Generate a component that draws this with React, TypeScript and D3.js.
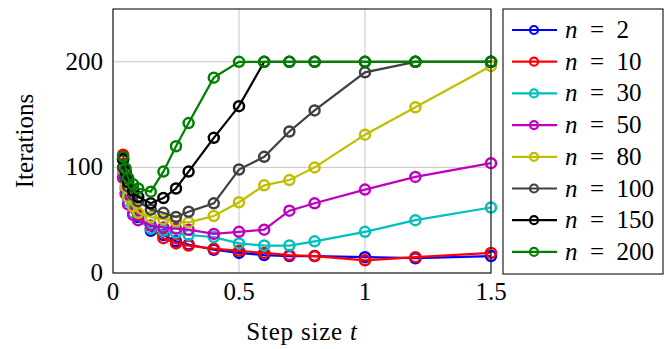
import React, { useRef, useEffect } from 'react';
import * as d3 from 'd3';

const steps = [0.04, 0.05, 0.06, 0.08, 0.1, 0.15, 0.2, 0.25, 0.3, 0.4, 0.5, 0.6, 0.7, 0.8, 1, 1.2, 1.5];

const n2 = [107, 90, 77, 63, 53, 40, 36, 30, 27, 22, 19, 17, 16, 16, 15, 14, 16];
const n10 = [112, 95, 80, 65, 55, 42, 33, 28, 26, 23, 21, 19, 17, 16, 12, 15, 19];
const n30 = [95, 80, 68, 57, 50, 42, 40, 38, 36, 34, 28, 26, 26, 30, 39, 50, 62];
const n50 = [90, 75, 65, 55, 50, 45, 43, 42, 41, 37, 39, 41, 59, 66, 79, 91, 104];
const n80 = [98, 82, 72, 63, 57, 53, 51, 49, 48, 54, 67, 83, 88, 100, 131, 157, 196];
const n100 = [100, 90, 82, 74, 68, 60, 57, 53, 58, 66, 98, 110, 134, 154, 190, 200, 200];
const n150 = [108, 96, 86, 78, 72, 66, 71, 80, 96, 128, 158, 200, 200, 200, 200, 200, 200];
const n200 = [110, 99, 90, 84, 80, 77, 96, 120, 142, 185, 200, 200, 200, 200, 200, 200, 200];

const seriesNames = ['2', '10', '30', '50', '80', '100', '150', '200'];
const seriesValues = [n2, n10, n30, n50, n80, n100, n150, n200];
const seriesColors = ['#0000ff', '#ff0000', '#00bfbf', '#bf00bf', '#bfbf00', '#404040', '#000000', '#008000'];

const xTicks = [0, 0.5, 1, 1.5];
const yTicks = [0, 100, 200];

const FONT = 'Liberation Serif, DejaVu Serif, serif';

const Chart = ({ width = 665, height = 349 }) => {
  const svgRef = useRef<SVGSVGElement>(null);

  useEffect(() => {
    const svg = d3.select(svgRef.current);
    svg.selectAll('*').remove();

    const left = 113, right = 491, top = 9, bottom = 273;

    const x = d3.scaleLinear().domain([0, 1.5]).range([left, right]);
    const y = d3.scaleLinear().domain([0, 250]).range([bottom, top]);

    // grid
    svg.append('g')
      .selectAll('line')
      .data(xTicks)
      .enter()
      .append('line')
      .attr('x1', d => x(d)).attr('x2', d => x(d))
      .attr('y1', top).attr('y2', bottom)
      .attr('stroke', '#c8c8c8').attr('stroke-width', 1);
    svg.append('g')
      .selectAll('line')
      .data(yTicks)
      .enter()
      .append('line')
      .attr('x1', left).attr('x2', right)
      .attr('y1', d => y(d)).attr('y2', d => y(d))
      .attr('stroke', '#c8c8c8').attr('stroke-width', 1);

    // tick labels
    svg.append('g')
      .selectAll('text')
      .data(xTicks)
      .enter()
      .append('text')
      .attr('x', d => x(d))
      .attr('y', 300)
      .attr('text-anchor', 'middle')
      .attr('font-family', FONT)
      .attr('font-size', 25)
      .text(d => String(d));
    svg.append('g')
      .selectAll('text')
      .data(yTicks)
      .enter()
      .append('text')
      .attr('x', 103)
      .attr('y', d => y(d) + 8)
      .attr('text-anchor', 'end')
      .attr('font-family', FONT)
      .attr('font-size', 25)
      .text(d => String(d));

    // series
    const line = d3.line<number>()
      .x((_, i) => x(steps[i]))
      .y(d => y(d));

    const plot = svg.append('g');
    seriesValues.forEach((vals, si) => {
      const g = plot.append('g');
      g.append('path')
        .datum(vals)
        .attr('fill', 'none')
        .attr('stroke', seriesColors[si])
        .attr('stroke-width', 2.2)
        .attr('d', line);
      g.selectAll('circle')
        .data(vals)
        .enter()
        .append('circle')
        .attr('cx', (_, i) => x(steps[i]))
        .attr('cy', d => y(d))
        .attr('r', 5)
        .attr('fill', 'none')
        .attr('stroke', seriesColors[si])
        .attr('stroke-width', 2.5);
    });

    // axis box
    svg.append('rect')
      .attr('x', left).attr('y', top)
      .attr('width', right - left).attr('height', bottom - top)
      .attr('fill', 'none')
      .attr('stroke', '#222')
      .attr('stroke-width', 1.2);

    // axis labels
    svg.append('text')
      .attr('x', (left + right) / 2)
      .attr('y', 340)
      .attr('text-anchor', 'middle')
      .attr('font-family', FONT)
      .attr('font-size', 25)
      .attr('letter-spacing', 0.8)
      .call(t => {
        t.append('tspan').text('Step size ');
        t.append('tspan').attr('font-style', 'italic').text('t');
      });
    svg.append('text')
      .attr('transform', `translate(33,${(top + bottom) / 2}) rotate(-90)`)
      .attr('text-anchor', 'middle')
      .attr('font-family', FONT)
      .attr('font-size', 25)
      .text('Iterations');

    // legend
    const lg = svg.append('g');
    lg.append('rect')
      .attr('x', 503).attr('y', 9)
      .attr('width', 160).attr('height', 265)
      .attr('fill', 'white')
      .attr('stroke', '#222')
      .attr('stroke-width', 1.2);
    seriesNames.forEach((name, i) => {
      const cy = 30 + i * 31.7;
      lg.append('line')
        .attr('x1', 512).attr('x2', 557)
        .attr('y1', cy).attr('y2', cy)
        .attr('stroke', seriesColors[i]).attr('stroke-width', 2.2);
      lg.append('circle')
        .attr('cx', 534).attr('cy', cy).attr('r', 4)
        .attr('fill', 'none')
        .attr('stroke', seriesColors[i]).attr('stroke-width', 2.2);
      lg.append('text')
        .attr('x', 565).attr('y', cy + 8)
        .attr('font-family', FONT)
        .attr('font-size', 25)
        .call(t => {
          t.append('tspan').attr('font-style', 'italic').text('n');
          t.append('tspan').text('\u2002=\u2002' + name);
        });
    });
  }, [width, height]);

  return (
    <svg ref={svgRef} width={width} height={height}
      style={{ position: 'absolute', left: 0, top: 0, background: 'white' }} />
  );
};

export default function App() {
  return <Chart />;
}
